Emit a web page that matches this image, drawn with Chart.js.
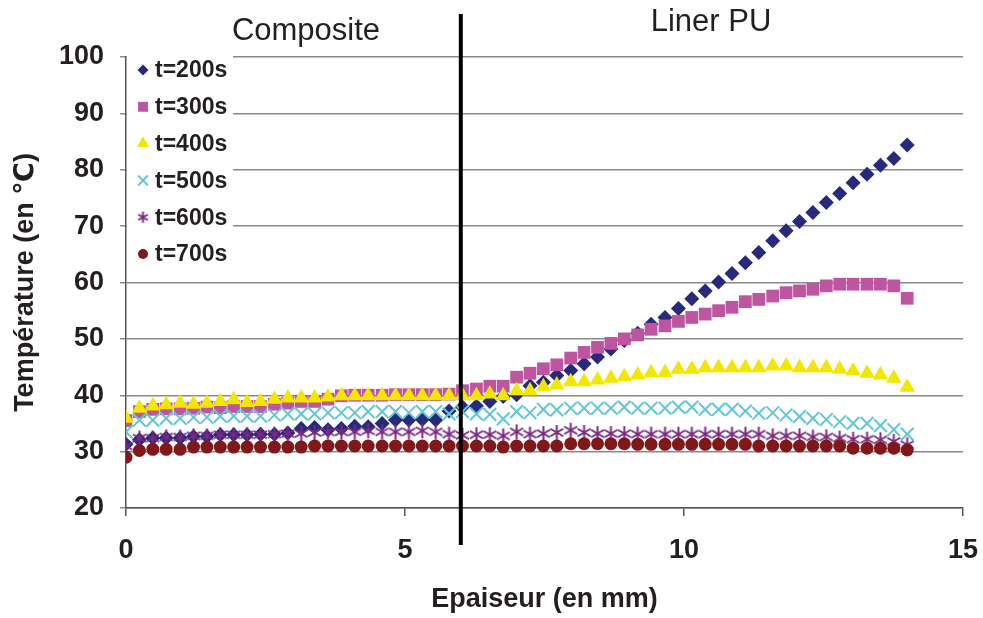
<!DOCTYPE html>
<html>
<head>
<meta charset="utf-8">
<script src="https://cdn.jsdelivr.net/npm/chart.js@4.4.0/dist/chart.umd.min.js"></script>
<style>
  html, body { margin: 0; padding: 0; background: #fff; overflow: hidden; }
  #wrap { width: 983px; height: 618px; }
</style>
</head>
<body>
<div id="wrap"><canvas id="myChart"></canvas></div>
<script>
// positions des noeuds dans l'epaisseur (mm)
const thickness = [0, 0.24, 0.48, 0.72, 0.97, 1.21, 1.45, 1.69, 1.93, 2.17,
    2.41, 2.66, 2.90, 3.14, 3.38, 3.62, 3.86, 4.10, 4.34, 4.59,
    4.83, 5.07, 5.31, 5.55, 5.79, 6.03, 6.28, 6.52, 6.76, 7.00,
    7.24, 7.48, 7.72, 7.97, 8.21, 8.45, 8.69, 8.93, 9.17, 9.41,
    9.66, 9.90, 10.14, 10.38, 10.62, 10.86, 11.10, 11.34, 11.59, 11.83,
    12.07, 12.31, 12.55, 12.79, 13.03, 13.28, 13.52, 13.76, 14.00];

const t200 = [31.3, 32.1, 32.4, 32.4, 32.4, 32.7, 32.7, 33.0, 33.0, 33.0,
    33.1, 33.1, 33.3, 34.1, 34.3, 33.9, 34.1, 34.5, 34.4, 35.0,
    35.6, 35.6, 35.7, 35.6, 37.2, 37.9, 38.1, 38.9, 39.8, 40.1,
    41.7, 42.3, 43.5, 44.4, 45.6, 46.8, 48.2, 49.7, 51.0, 52.6,
    53.8, 55.4, 57.1, 58.5, 60.1, 61.6, 63.5, 65.3, 67.4, 69.2,
    70.8, 72.4, 74.2, 75.8, 77.7, 79.2, 80.8, 82.0, 84.4];

const t300 = [35.5, 37.1, 37.5, 37.6, 37.6, 37.7, 37.9, 37.8, 38.0, 38.0,
    38.0, 38.4, 38.6, 38.9, 38.9, 39.3, 39.9, 40.0, 40.0, 40.0,
    40.1, 40.1, 40.1, 40.1, 40.2, 40.8, 41.1, 41.6, 41.6, 43.2,
    43.9, 44.7, 45.4, 46.6, 47.6, 48.5, 49.2, 50.0, 50.7, 51.7,
    52.3, 53.1, 53.8, 54.4, 55.0, 55.6, 56.6, 57.0, 57.6, 58.2,
    58.5, 58.8, 59.4, 59.7, 59.7, 59.7, 59.7, 59.4, 57.2];

const t400 = [35.9, 37.7, 38.1, 38.3, 38.6, 38.4, 38.6, 38.9, 39.2, 38.7,
    38.9, 39.3, 39.5, 39.5, 39.5, 39.7, 39.9, 39.9, 39.9, 39.9,
    39.9, 39.9, 39.9, 39.9, 39.9, 39.9, 39.9, 40.2, 39.9, 40.8,
    40.8, 41.5, 41.8, 42.4, 42.4, 42.7, 43.0, 43.3, 43.6, 44.0,
    44.0, 44.6, 44.6, 44.9, 44.9, 44.9, 44.9, 44.9, 45.2, 45.2,
    44.9, 44.9, 44.9, 44.6, 44.3, 43.9, 43.6, 43.0, 41.4];

const t500 = [33.5, 35.6, 35.6, 35.9, 35.9, 36.1, 36.1, 36.3, 36.3, 36.3,
    36.3, 36.5, 36.7, 36.7, 36.7, 36.9, 36.9, 36.9, 37.1, 37.1,
    37.1, 36.9, 37.1, 37.1, 36.7, 37.1, 36.7, 36.6, 35.8, 37.1,
    36.9, 37.5, 37.4, 37.7, 37.7, 37.7, 37.7, 37.9, 37.7, 37.7,
    37.7, 37.9, 37.9, 37.5, 37.5, 37.5, 37.2, 36.8, 36.9, 36.5,
    36.2, 35.9, 35.7, 35.3, 35.0, 35.0, 34.6, 33.9, 33.1];

const t600 = [31.0, 32.4, 32.4, 32.6, 32.6, 32.8, 32.8, 33.0, 33.0, 33.0,
    33.0, 33.1, 33.2, 33.2, 33.4, 33.5, 33.5, 33.5, 33.7, 33.5,
    33.5, 33.5, 33.7, 33.5, 33.1, 32.9, 33.0, 33.0, 32.8, 33.5,
    33.1, 33.2, 33.4, 33.8, 33.4, 33.2, 33.2, 33.2, 33.1, 33.1,
    33.1, 33.1, 33.1, 33.1, 33.1, 33.1, 33.1, 33.1, 32.8, 32.8,
    32.8, 32.6, 32.6, 32.4, 32.2, 32.2, 32.1, 31.8, 31.2];

const t700 = [29.0, 30.2, 30.4, 30.4, 30.4, 30.8, 30.8, 30.8, 30.8, 30.8,
    30.8, 30.8, 30.8, 30.8, 31.0, 31.0, 31.0, 31.0, 31.0, 31.0,
    31.0, 31.0, 31.0, 31.0, 31.0, 31.0, 31.0, 31.0, 30.8, 31.0,
    31.0, 31.0, 31.0, 31.4, 31.4, 31.4, 31.4, 31.4, 31.3, 31.3,
    31.3, 31.3, 31.3, 31.3, 31.3, 31.3, 31.3, 31.0, 31.0, 31.0,
    31.0, 31.0, 31.0, 31.0, 30.6, 30.6, 30.6, 30.6, 30.3];

const seriesLabels = ['t=200s', 't=300s', 't=400s', 't=500s', 't=600s', 't=700s'];
const xTicks = [0, 5, 10, 15];
const yTicks = [20, 30, 40, 50, 60, 70, 80, 90, 100];
const interfaceAt = 6; // limite composite / liner

const FONT = "'Liberation Sans', Arial, 'DejaVu Sans', sans-serif";
const TEXT = '#231f20';

// asterisque a 6 branches (pas dispo dans chart.js)
function makeAsterisk(color, size, lw) {
    const c = document.createElement('canvas');
    c.width = size;
    c.height = size;
    const g = c.getContext('2d');
    g.strokeStyle = color;
    g.lineWidth = lw;
    const m = size / 2, r = size / 2 - 1;
    g.beginPath();
    for (let k = 0; k < 3; k++) {
        const a = Math.PI / 2 + k * Math.PI / 3;
        g.moveTo(m + Math.cos(a) * r, m + Math.sin(a) * r);
        g.lineTo(m - Math.cos(a) * r, m - Math.sin(a) * r);
    }
    g.stroke();
    return c;
}

const styles = [
    { color: '#27297a', pointStyle: 'rectRot', radius: 7.5, legendRadius: 5.5 },
    { color: '#bd55a0', pointStyle: 'rect', radius: 9, legendRadius: 7 },
    { color: '#f3e700', pointStyle: 'triangle', radius: 9, legendRadius: 7 },
    { color: '#62c6d8', pointStyle: 'crossRot', radius: 9, legendRadius: 7, lw: 2 },
    { color: '#7a2a84', pointStyle: makeAsterisk('#7a2a84', 17, 2), radius: 8,
      legendStyle: makeAsterisk('#7a2a84', 13, 2), legendRadius: 6 },
    { color: '#801719', pointStyle: 'circle', radius: 6.5, legendRadius: 5 }
];

const allSeries = [t200, t300, t400, t500, t600, t700];

const datasets = allSeries.map((vals, i) => ({
    label: seriesLabels[i],
    data: thickness.map((x, k) => ({ x: x, y: vals[k] })),
    pointStyle: styles[i].pointStyle,
    pointRadius: styles[i].radius,
    backgroundColor: styles[i].color,
    borderColor: styles[i].color,
    pointBorderWidth: styles[i].lw || 0,
    order: allSeries.length - i // derniere serie dessinee au-dessus
}));

const extrasPlugin = {
    id: 'extras',
    beforeDatasetsDraw(chart) {
        // legende dans la zone de trace
        const ctx = chart.ctx;
        const area = chart.chartArea;
        ctx.save();
        ctx.fillStyle = '#fff';
        ctx.fillRect(area.left + 1, area.top - 1, 106, 212);
        ctx.font = 'bold 23px ' + FONT;
        ctx.textBaseline = 'middle';
        seriesLabels.forEach((lab, i) => {
            const y = area.top + 13 + i * 36.8;
            const st = styles[i];
            ctx.fillStyle = st.color;
            ctx.strokeStyle = st.color;
            ctx.lineWidth = st.lw || 1;
            Chart.helpers.drawPoint(ctx, {
                pointStyle: st.legendStyle || st.pointStyle,
                radius: st.legendRadius,
                rotation: 0,
                borderWidth: st.lw || 0
            }, area.left + 17, y);
            ctx.fillStyle = TEXT;
            ctx.fillText(lab, area.left + 29, y + 1);
        });
        ctx.restore();
    },
    afterDatasetsDraw(chart) {
        const ctx = chart.ctx;
        const xs = chart.scales.x;
        const xp = xs.getPixelForValue(interfaceAt);
        ctx.save();
        ctx.strokeStyle = '#000';
        ctx.lineWidth = 4;
        ctx.beginPath();
        ctx.moveTo(xp, 14);
        ctx.lineTo(xp, 545);
        ctx.stroke();

        ctx.fillStyle = TEXT;
        ctx.font = '31px ' + FONT;
        ctx.textAlign = 'center';
        ctx.textBaseline = 'middle';
        ctx.fillText('Composite', 306, 31);
        ctx.fillText('Liner PU', 711, 22);
        ctx.restore();
    }
};

const ctx = document.getElementById('myChart').getContext('2d');
const chart1 = new Chart(ctx, {
    type: 'scatter',
    data: { datasets: datasets },
    options: {
        responsive: true,
        maintainAspectRatio: false,
        animation: false,
        layout: { padding: { top: 57, right: 20, left: 0, bottom: 0 } },
        plugins: {
            legend: { display: false },
            tooltip: { enabled: false }
        },
        scales: {
            x: {
                type: 'linear',
                min: 0,
                max: 15,
                afterBuildTicks: (scale) => { scale.ticks = xTicks.map(v => ({ value: v })); },
                afterFit: (scale) => {
                    scale.height = 110;
                    // le "15" deborde un peu, pas besoin de marge en plus
                    scale.paddingLeft = 0;
                    scale.paddingRight = 0;
                },
                ticks: {
                    font: { family: FONT, size: 27, weight: 'bold' },
                    color: TEXT,
                    padding: 18
                },
                grid: {
                    drawOnChartArea: false,
                    drawTicks: true,
                    tickLength: 8,
                    color: '#555',
                    lineWidth: 1.5
                },
                border: { color: '#555', width: 1.5 },
                title: {
                    display: true,
                    text: 'Epaiseur (en mm)',
                    font: { family: FONT, size: 27, weight: 'bold' },
                    color: TEXT,
                    padding: { top: 0, bottom: 2 }
                }
            },
            y: {
                min: 20,
                max: 100,
                afterBuildTicks: (scale) => { scale.ticks = yTicks.map(v => ({ value: v })); },
                afterFit: (scale) => { scale.width = 126; },
                ticks: {
                    font: { family: FONT, size: 27, weight: 'bold' },
                    color: TEXT,
                    padding: 16
                },
                grid: {
                    color: '#8a8a8a',
                    lineWidth: 1.5,
                    tickLength: 6
                },
                border: { color: '#555', width: 1.5 },
                title: {
                    display: true,
                    text: 'Température (en ℃)',
                    font: { family: FONT, size: 27, weight: 'bold' },
                    color: TEXT,
                    padding: { top: 9, bottom: 0 }
                }
            }
        }
    },
    plugins: [extrasPlugin]
});
</script>
</body>
</html>
